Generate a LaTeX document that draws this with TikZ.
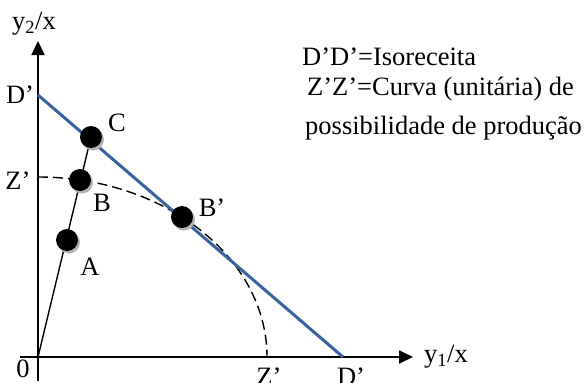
\documentclass[tikz,border=0pt]{standalone}
\usepackage{fontspec}
\setmainfont{Liberation Serif}
\usepackage{tikz}
\usetikzlibrary{arrows.meta,shadows}
\definecolor{isoblue}{HTML}{3B62A0}

\begin{document}
\begin{tikzpicture}[
        x=1pt, y=-1pt,
        every node/.style={font=\fontsize{26.5}{30}\selectfont, inner sep=0pt},
        axis/.style={line width=1.8pt, -{Triangle[length=14pt, width=13pt]}},
        dot/.style={circle, fill=black, minimum size=22pt, inner sep=0pt,
            drop shadow={shadow xshift=2pt, shadow yshift=-2.5pt, fill=black!30, opacity=1}},
        lbl/.style={anchor=center}
    ]
    \useasboundingbox (0,0) rectangle (587,383);

    % ============ eixos ============
    \coordinate (O) at (38,357);
    \coordinate (yend) at (38,41);
    \coordinate (ybot) at (38,381);
    \coordinate (xbeg) at (20,357);
    \coordinate (xend) at (413,357);
    \draw[axis] (ybot) -- (yend);
    \draw[axis] (xbeg) -- (xend);
    \node[lbl] (ylab) at (34,24) {y\textsubscript{2}/x};
    \node[anchor=west] (xlab) at (424,357) {y\textsubscript{1}/x};
    \node[lbl] (zero) at (23,369) {0};

    % ============ curva Z'Z' ============
    \coordinate (Zy) at (38,177);
    \coordinate (Zx) at (267,357);
    \draw[line width=1.4pt, dash pattern=on 10pt off 5pt]
    (Zy) arc[start angle=-90, end angle=0, x radius=229, y radius=180];
    \node[lbl] (Zylab) at (18,181) {Z’};
    \node[lbl] (Zxlab) at (269,377) {Z’};

    % ============ isoreceita D'D' ============
    \coordinate (Dy) at (38,95);
    \coordinate (Dx) at (343,357);
    \draw[isoblue, line width=3pt] (Dy) -- (Dx);
    \node[lbl] (Dylab) at (20,95) {D’};
    \node[lbl] (Dxlab) at (351,377) {D’};

    % ============ raio e pontos ============
    \coordinate (Cc) at (91,137);
    \draw[line width=1.4pt] (O) -- (Cc);
    \node[dot] (A) at (67,240) {};
    \node[dot] (B) at (80,180) {};
    \node[dot] (C) at (Cc) {};
    \node[dot] (Bp) at (182,217) {};
    \node[lbl] (Alab) at (90,267) {A};
    \node[lbl] (Blab) at (102,203) {B};
    \node[lbl] (Clab) at (117,123) {C};
    \node[lbl] (Bplab) at (212,208) {B’};

    % ============ legenda ============
    \node[anchor=base west] (leg1) at (302,65) {D’D’=Isoreceita};
    \node[anchor=base west] (leg2) at (307,95) {Z’Z’=Curva (unitária) de};
    \node[anchor=base west] (leg3) at (305,134) {possibilidade de produção};
\end{tikzpicture}
\end{document}
